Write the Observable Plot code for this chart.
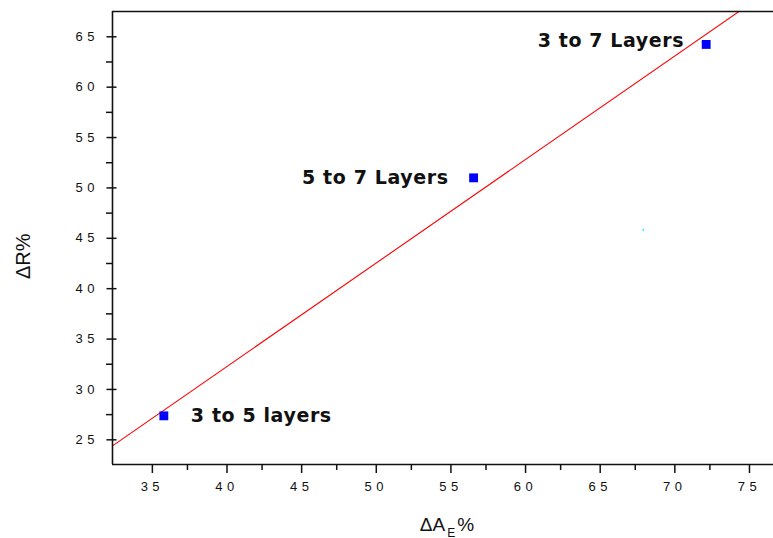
<!DOCTYPE html>
<html><head><meta charset="utf-8">
<script src="https://cdn.jsdelivr.net/npm/d3@7"></script>
<script src="https://cdn.jsdelivr.net/npm/@observablehq/plot@0.6"></script>
<style>
html,body{margin:0;padding:0;background:#fff;}
g[aria-label="y-axis tick label"] text, g[aria-label="x-axis tick label"] text {letter-spacing:4.5px;}
</style>
</head><body><div id="chart"></div>
<script>
const xTicks = [35, 40, 45, 50, 55, 60, 65, 70, 75];
const xMinorTicks = [37.5, 42.5, 47.5, 52.5, 57.5, 62.5, 67.5, 72.5];
const yTicks = [25, 30, 35, 40, 45, 50, 55, 60, 65];
const yMinorTicks = [27.5, 32.5, 37.5, 42.5, 47.5, 52.5, 57.5, 62.5];
const xDomain = [32.48, 76.76];
const yDomain = [22.55, 67.51];
const labels = ["3 to 5 layers", "5 to 7 Layers", "3 to 7 Layers"];
const deltaAE = [35.92, 56.67, 72.25];
const deltaR = [27.38, 51.0, 64.24];
const fitSlope = 1.0272;
const fitIntercept = -8.963;
const strayX = [68.04];
const strayY = [45.84];
const xTitle = "ΔAE%";
const yTitle = "ΔR%";

const pts = labels.map((l, i) => ({label: l, x: deltaAE[i], y: deltaR[i]}));
const fit = xDomain.map(x => ({x, y: fitSlope * x + fitIntercept}));
const stray = strayX.map((x, i) => ({x, y: strayY[i]}));

const ink = "#111";
const labelFont = {fontSize: 19, fontWeight: "bold", fontFamily: "'DejaVu Sans', Verdana, sans-serif", fill: "#111"};
const plot = Plot.plot({
  width: 773, height: 538,
  marginLeft: 112, marginRight: 0, marginTop: 11, marginBottom: 74,
  style: {fontFamily: "'Liberation Sans', Arial, sans-serif", background: "#fff", color: ink},
  x: {domain: xDomain, axis: null},
  y: {domain: yDomain, axis: null},
  marks: [
    Plot.line(fit, {x: "x", y: "y", stroke: "#ff0000", strokeWidth: 1.1, clip: true}),
    Plot.ruleY([yDomain[0], yDomain[1]], {stroke: ink, strokeWidth: 1.6}),
    Plot.ruleX([xDomain[0]], {stroke: ink, strokeWidth: 1.6}),
    Plot.axisX(xTicks, {anchor: "bottom", tickSize: 9, tickPadding: 8, fontSize: 13, dx: 2.25, label: null, stroke: ink, strokeWidth: 1.5, fill: ink}),
    Plot.axisX(xMinorTicks, {anchor: "bottom", tickSize: 6, tickFormat: () => "", label: null, stroke: ink, strokeWidth: 1.5}),
    Plot.axisY(yTicks, {anchor: "left", tickSize: 10, tickPadding: 8, fontSize: 13, dx: 4.5, label: null, stroke: ink, strokeWidth: 1.5, fill: ink}),
    Plot.axisY(yMinorTicks, {anchor: "left", tickSize: 6, tickFormat: () => "", label: null, stroke: ink, strokeWidth: 1.5}),
    Plot.dot(pts, {x: "x", y: "y", symbol: "square", r: 5, fill: "#0000ff", stroke: null}),
    Plot.dot(stray, {x: "x", y: "y", r: 1, fill: "#00ffff", stroke: null}),
    Plot.text(pts.slice(0, 1), {x: "x", y: "y", text: "label", textAnchor: "start", dx: 27, ...labelFont}),
    Plot.text(pts.slice(1, 2), {x: "x", y: "y", text: "label", textAnchor: "end", dx: -25, ...labelFont}),
    Plot.text(pts.slice(2, 3), {x: "x", y: "y", text: "label", textAnchor: "end", dx: -22, dy: -4, ...labelFont}),
    Plot.text([xTitle], {frameAnchor: "bottom", lineAnchor: "bottom", dy: 66, dx: 4, fontSize: 19, fill: ink}),
    Plot.text([yTitle], {frameAnchor: "left", rotate: -90, dx: -89, dy: 41, fontSize: 20, fill: ink})
  ]
});
document.getElementById("chart").appendChild(plot);

// letter spacing for the point labels, and subscript E in the x title
d3.select(plot).selectAll("text").each(function() {
  const t = d3.select(this);
  const s = t.text();
  if (labels.includes(s)) t.style("letter-spacing", "0.6px");
  if (s === xTitle) {
    t.text(null);
    t.append("tspan").text("ΔA");
    t.append("tspan").attr("dy", 6).attr("dx", 2).attr("font-size", 12).text("E");
    t.append("tspan").attr("dy", -6).attr("dx", 2).text("%");
  }
});
</script>
</body></html>
